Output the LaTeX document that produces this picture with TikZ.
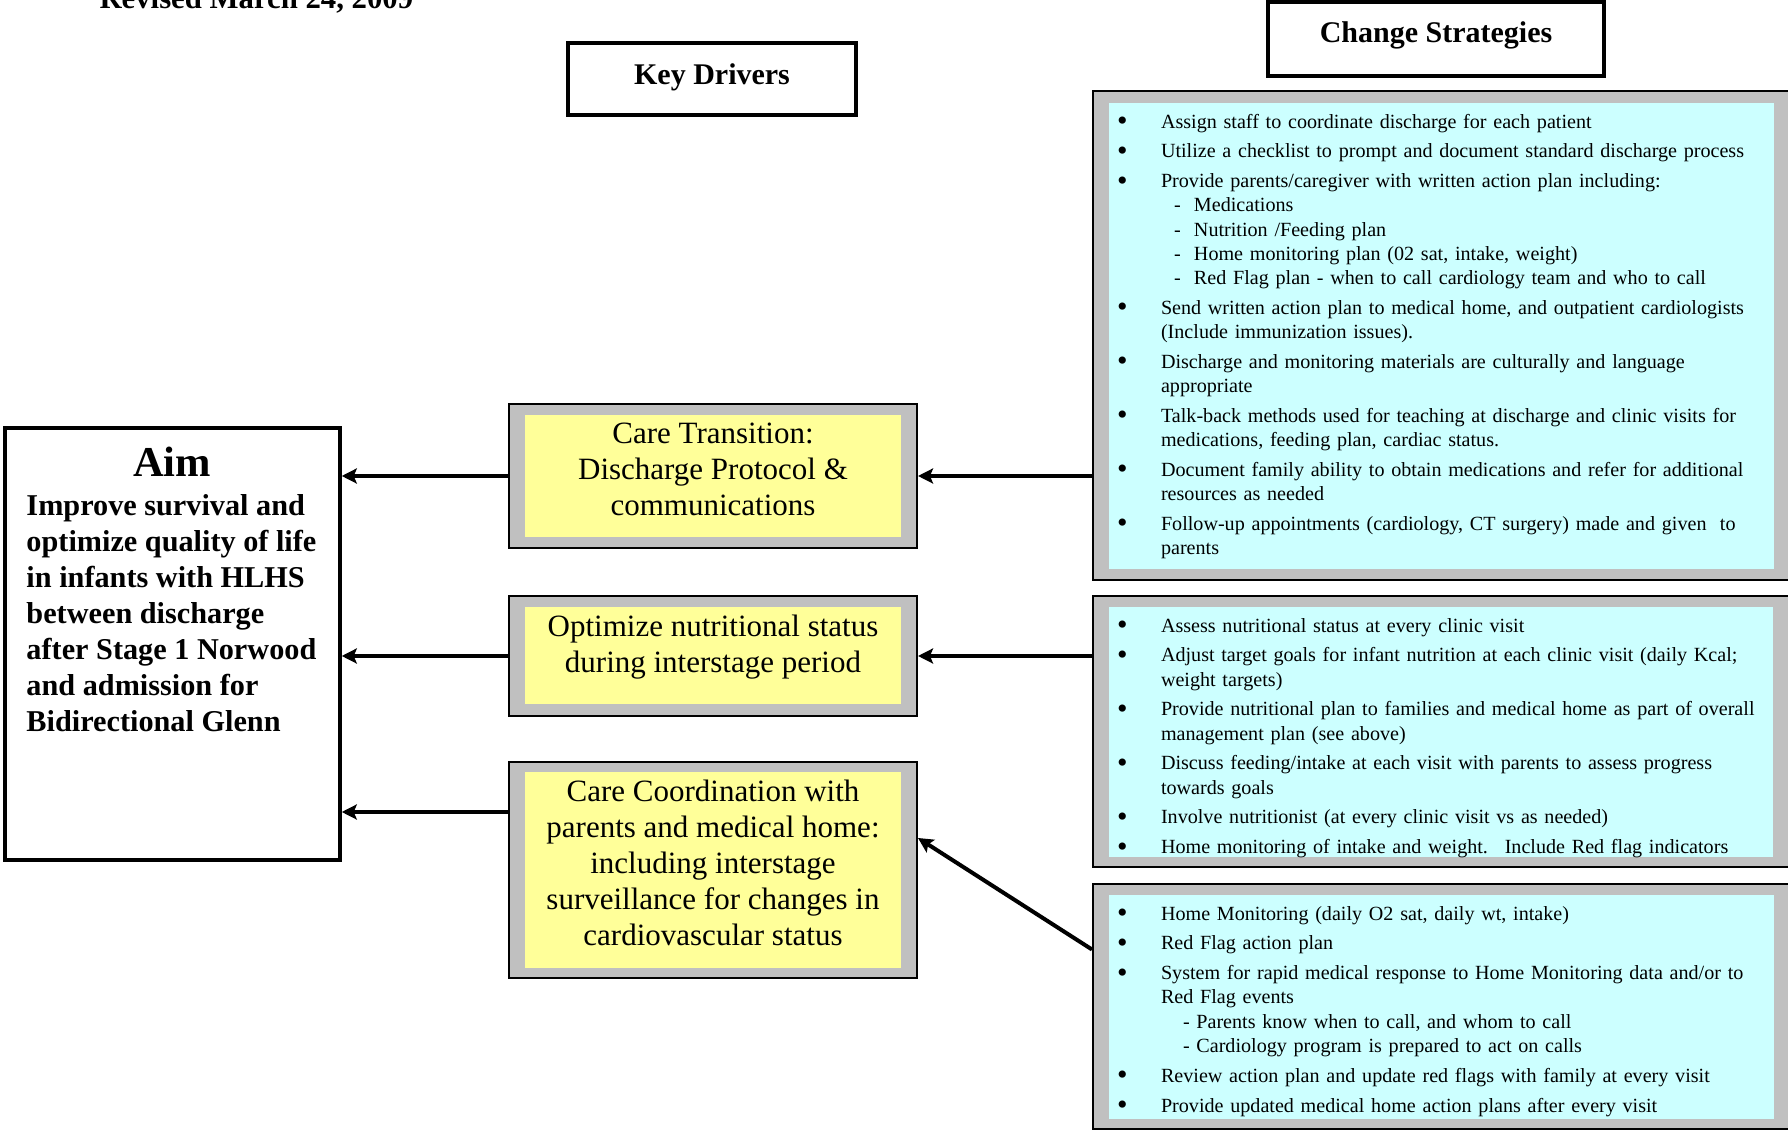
\documentclass[tikz,border=0pt]{standalone}
\usepackage{fontspec}
\setmainfont{Liberation Serif}
\usetikzlibrary{positioning,arrows.meta,calc,fit}
\definecolor{bandGray}{RGB}{192,192,192}
\definecolor{driverYellow}{RGB}{255,255,153}
\definecolor{strategyCyan}{RGB}{204,255,255}
\tikzstyle{canvas} = [x = 0.4pt, y = -0.4pt]
\tikzstyle{headBox} = [draw, line width = 1.4pt, inner sep = 0pt, text depth = 5.5pt, font = \fontsize{12}{14}\selectfont\bfseries]
\tikzstyle{aimBox} = [draw, line width = 1.4pt, inner sep = 0pt]
\tikzstyle{bandBox} = [draw, fill = bandGray, line width = 0.8pt, inner sep = 0pt]
\tikzstyle{driverFill} = [fill = driverYellow, inner sep = 0pt]
\tikzstyle{strategyFill} = [fill = strategyCyan, inner sep = 0pt]
\tikzstyle{driverText} = [align = center, inner sep = 0pt, font = \fontsize{12.4}{14.4}\selectfont]
\tikzstyle{aimText} = [align = left, inner sep = 0pt, font = \fontsize{12.1}{14.4}\selectfont\bfseries]
\tikzstyle{strategyText} = [text width = 262pt, inner sep = 0pt, font = \fontsize{8.05}{9.65}\selectfont]
\tikzstyle{driveArrow} = [line width = 1.6pt, -{Stealth[length = 6pt, width = 6pt, inset = 1.2pt]}]
\newcommand{\strategyBullet}{\raisebox{-0.9pt}{\fontsize{12}{9.6}\selectfont\textbullet}}
\newcommand{\strategyItem}[1]{\par\vskip 2.3pt\noindent\hyphenpenalty=10000\hangindent=17.6pt\hangafter=1\makebox[17.6pt][l]{\strategyBullet}#1}
\newcommand{\strategySub}[1]{\par\noindent\hspace*{22.8pt}\makebox[8pt][l]{-}#1}
\newcommand{\strategyNote}[1]{\par\noindent\hspace*{26.4pt}#1}
\begin{document}
\begin{tikzpicture}[canvas]
  \useasboundingbox (0,0) rectangle (1788,1130);
  \node[anchor = base west, inner sep = 0pt, font = \fontsize{12.3}{14}\selectfont\bfseries] (revised) at (99,9) {Revised March 24, 2009};

  % headers
  \node[headBox, text depth = 3.7pt, minimum width = 115.2pt, minimum height = 28.8pt] (kdBox) at (712,79) {Key Drivers};
  \node[headBox, minimum width = 134.4pt, minimum height = 29.6pt] (csBox) at (1436,39) {Change Strategies};

  % aim
  \node[aimBox, fit = {(5,428) (340,860)}] (aimBox) {};
  \node[anchor = base, inner sep = 0pt, font = \fontsize{17}{20}\selectfont\bfseries] (aimTitle) at (172,477) {Aim};
  \node[aimText, anchor = north west] (aimBody) at (26,494) {Improve survival and\\optimize quality of life\\in infants with HLHS\\between discharge\\after Stage 1 Norwood\\and admission for\\Bidirectional Glenn};

  % key drivers
  \node[bandBox, fit = {(509,404) (917,548)}] (d1Out) {};
  \node[driverFill, fit = {(525,415) (901,537)}] (d1In) {};
  \node[driverText, below = 3.2pt of d1In.north] (d1Text) {Care Transition:\\Discharge Protocol \&\\communications};
  \node[bandBox, fit = {(509,596) (917,716)}] (d2Out) {};
  \node[driverFill, fit = {(525,607) (901,704)}] (d2In) {};
  \node[driverText, below = 3.2pt of d2In.north] (d2Text) {Optimize nutritional status\\during interstage period};
  \node[bandBox, fit = {(509,762) (917,978)}] (d3Out) {};
  \node[driverFill, fit = {(525,772) (901,968)}] (d3In) {};
  \node[driverText, below = 3.2pt of d3In.north] (d3Text) {Care Coordination with\\parents and medical home:\\including interstage\\surveillance for changes in\\cardiovascular status};

  % change strategies
  \node[bandBox, fit = {(1093,91) (1792,580)}] (aOut) {};
  \node[strategyFill, fit = {(1109,103) (1774,569)}] (aIn) {};
  \node[strategyText, below right = -1.9pt and 3.2pt of aIn.north west] (aText) {%
    \strategyItem{Assign staff to coordinate discharge for each patient}
    \strategyItem{Utilize a checklist to prompt and document standard discharge process}
    \strategyItem{Provide parents/caregiver with written action plan including:}
    \strategySub{Medications}
    \strategySub{Nutrition /Feeding plan}
    \strategySub{Home monitoring plan (02 sat, intake, weight)}
    \strategySub{Red Flag plan - when to call cardiology team and who to call}
    \strategyItem{Send written action plan to medical home, and outpatient cardiologists\newline (Include immunization issues).}
    \strategyItem{Discharge and monitoring materials are culturally and language\newline appropriate}
    \strategyItem{Talk-back methods used for teaching at discharge and clinic visits for\newline medications, feeding plan, cardiac status.}
    \strategyItem{Document family ability to obtain medications and refer for additional\newline resources as needed}
    \strategyItem{Follow-up appointments (cardiology, CT surgery) made and given~ to\newline parents}\par};

  \node[bandBox, fit = {(1093,596) (1792,867)}] (bOut) {};
  \node[strategyFill, fit = {(1109,607) (1773,857)}] (bIn) {};
  \node[strategyText, below right = -1.9pt and 3.2pt of bIn.north west] (bText) {%
    \strategyItem{Assess nutritional status at every clinic visit}
    \strategyItem{Adjust target goals for infant nutrition at each clinic visit (daily Kcal;\newline weight targets)}
    \strategyItem{Provide nutritional plan to families and medical home as part of overall\newline management plan (see above)}
    \strategyItem{Discuss feeding/intake at each visit with parents to assess progress\newline towards goals}
    \strategyItem{Involve nutritionist (at every clinic visit vs as needed)}
    \strategyItem{Home monitoring of intake and weight.~ Include Red flag indicators}\par};

  \node[bandBox, fit = {(1093,884) (1792,1129)}] (cOut) {};
  \node[strategyFill, fit = {(1109,895) (1774,1119)}] (cIn) {};
  \node[strategyText, below right = -1.9pt and 3.2pt of cIn.north west] (cText) {%
    \strategyItem{Home Monitoring (daily O2 sat, daily wt, intake)}
    \strategyItem{Red Flag action plan}
    \strategyItem{System for rapid medical response to Home Monitoring data and/or to\newline Red Flag events}
    \strategyNote{- Parents know when to call, and whom to call}
    \strategyNote{- Cardiology program is prepared to act on calls}
    \strategyItem{Review action plan and update red flags with family at every visit}
    \strategyItem{Provide updated medical home action plans after every visit}\par};

  % arrows
  \coordinate (d3Left) at ($(d3Out.west)+(0,-58)$);
  \coordinate (d3Right) at ($(d3Out.east)+(0,-32)$);
  \coordinate (cLeft) at ($(cOut.west)+(0,-57)$);
  \draw[driveArrow] (d1Out.west) -- (aimBox.east |- d1Out.west);
  \draw[driveArrow] (d2Out.west) -- (aimBox.east |- d2Out.west);
  \draw[driveArrow] (d3Left) -- (aimBox.east |- d3Left);
  \draw[driveArrow] (aOut.west |- d1Out.east) -- (d1Out.east);
  \draw[driveArrow] (bOut.west |- d2Out.east) -- (d2Out.east);
  \draw[driveArrow] (cLeft) -- (d3Right);
\end{tikzpicture}
\end{document}
